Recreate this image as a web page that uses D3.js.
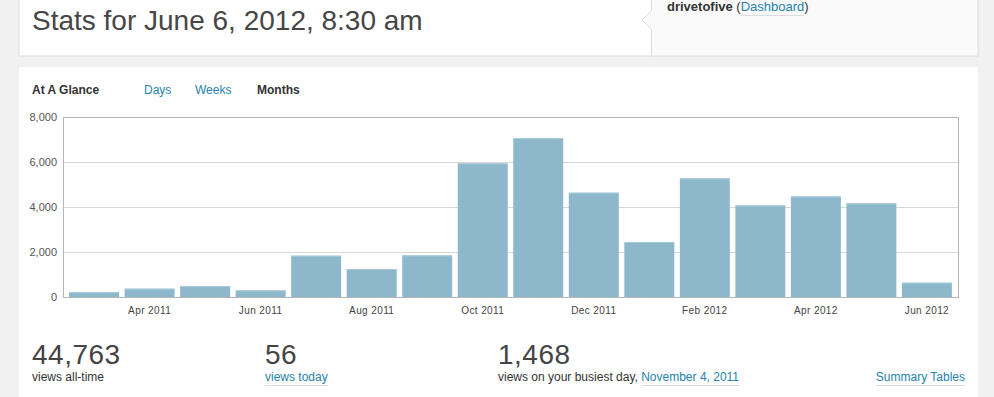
<!DOCTYPE html>
<html>
<head>
<meta charset="utf-8">
<script src="https://cdn.jsdelivr.net/npm/d3@7"></script>
<style>
  body { margin: 0; background: #f1f1f1; }
  svg { display: block; font-family: "Liberation Sans", Arial, sans-serif; }
</style>
</head>
<body>
<script>
// monthly views, Mar 2011 - Jun 2012
const months = ['Mar 2011','Apr 2011','May 2011','Jun 2011','Jul 2011','Aug 2011','Sep 2011','Oct 2011',
                'Nov 2011','Dec 2011','Jan 2012','Feb 2012','Mar 2012','Apr 2012','May 2012','Jun 2012'];
const views = [220, 370, 490, 295, 1835, 1245, 1850, 5940, 7065, 4635, 2445, 5270, 4070, 4470, 4160, 635];
const yTicks = [0, 2000, 4000, 6000, 8000];
const xTickLabels = ['Apr 2011','Jun 2011','Aug 2011','Oct 2011','Dec 2011','Feb 2012','Apr 2012','Jun 2012'];

const width = 994, height = 397;
const plot = {left: 63, top: 117, right: 958, bottom: 297};
const linkColor = '#2583ad';

const svg = d3.select('body').append('svg').attr('width', width).attr('height', height);

//page boxes
svg.append('rect').attr('x', 0).attr('y', 0).attr('width', width).attr('height', height).attr('fill', '#f1f1f1');
svg.append('rect').attr('x', 19).attr('y', -1).attr('width', 959).attr('height', 57)
   .attr('fill', '#fff').attr('stroke', '#dfdfdf');
svg.append('rect').attr('x', 651.5).attr('y', -1).attr('width', 326.5).attr('height', 57)
   .attr('fill', '#fafafa').attr('stroke', '#dfdfdf');
svg.append('path').attr('d', 'M652,10 L642,20 L652,30').attr('fill', '#fafafa').attr('stroke', '#dfdfdf');
svg.append('rect').attr('x', 652).attr('y', 11).attr('width', 2).attr('height', 18).attr('fill', '#fafafa');
svg.append('rect').attr('x', 19).attr('y', 67).attr('width', 959).attr('height', 340)
   .attr('fill', '#fff');

//underline helper for links
function underline(node) {
  const b = node.getBBox();
  svg.append('line').attr('x1', b.x).attr('x2', b.x + b.width)
     .attr('y1', b.y + b.height + 1.5).attr('y2', b.y + b.height + 1.5).attr('stroke', '#dcdcdc');
}

//header texts
svg.append('text').attr('x', 32).attr('y', 30).text('Stats for June 6, 2012, 8:30 am')
   .attr('font-size', 28).attr('fill', '#464646');
const who = svg.append('text').attr('x', 667).attr('y', 11).attr('font-size', 13);
who.append('tspan').text('drivetofive ').attr('font-weight', 'bold').attr('fill', '#333');
who.append('tspan').text('(').attr('fill', '#333');
const dash = who.append('tspan').text('Dashboard').attr('fill', linkColor);
who.append('tspan').text(')').attr('fill', '#333');
underline(dash.node());

//tabs
svg.append('text').attr('x', 32).attr('y', 94).text('At A Glance').attr('font-size', 12)
   .attr('font-weight', 'bold').attr('fill', '#333');
svg.append('text').attr('x', 144).attr('y', 94).text('Days').attr('font-size', 12).attr('fill', linkColor);
svg.append('text').attr('x', 195).attr('y', 94).text('Weeks').attr('font-size', 12).attr('fill', linkColor);
svg.append('text').attr('x', 257).attr('y', 94).text('Months').attr('font-size', 12)
   .attr('font-weight', 'bold').attr('fill', '#333');

//scales
const xScale = d3.scaleBand().domain(months).range([plot.left, plot.right]).paddingInner(0.1).paddingOuter(0.11);
const yScale = d3.scaleLinear().domain([0, 8000]).range([plot.bottom, plot.top]);

//grid
svg.append('g').selectAll('line').data(yTicks.slice(1, -1)).join('line')
   .attr('x1', plot.left).attr('x2', plot.right)
   .attr('y1', d => Math.round(yScale(d)) + 0.5).attr('y2', d => Math.round(yScale(d)) + 0.5)
   .attr('stroke', '#d8d8d8');

//bars
svg.append('g').selectAll('rect').data(views).join('rect')
   .attr('x', (d, i) => xScale(months[i]))
   .attr('y', d => yScale(d))
   .attr('width', xScale.bandwidth())
   .attr('height', d => plot.bottom - yScale(d))
   .attr('fill', '#8db8cb');
svg.append('g').selectAll('line').data(views).join('line')
   .attr('x1', (d, i) => xScale(months[i])).attr('x2', (d, i) => xScale(months[i]) + xScale.bandwidth())
   .attr('y1', d => yScale(d) + 0.5).attr('y2', d => yScale(d) + 0.5)
   .attr('stroke', '#a9cbda');

//plot frame
svg.append('rect').attr('x', plot.left + 0.5).attr('y', plot.top + 0.5)
   .attr('width', plot.right - plot.left).attr('height', plot.bottom - plot.top)
   .attr('fill', 'none').attr('stroke', '#b5b5b5');

//y axis
const yAxis = svg.append('g').attr('transform', `translate(${plot.left - 6},0)`)
   .call(d3.axisLeft(yScale).tickValues(yTicks).tickSize(0).tickPadding(0).tickFormat(d3.format(',')));
yAxis.select('.domain').remove();
yAxis.selectAll('text').attr('font-size', 11).attr('fill', '#555').attr('font-family', null);

//x axis
const xAxis = svg.append('g').attr('transform', `translate(0,${plot.bottom + 10})`)
   .call(d3.axisBottom(xScale).tickValues(xTickLabels).tickSize(0).tickPadding(0));
xAxis.select('.domain').remove();
xAxis.selectAll('text').attr('font-size', 10).attr('fill', '#444').attr('font-family', null)
   .attr('letter-spacing', 0.4);

//summary numbers
const stats = [
  {x: 32, num: '44,763', label: 'views all-time'},
  {x: 265, num: '56', label: 'views today', link: true},
  {x: 498, num: '1,468', label: 'views on your busiest day, ', extra: 'November 4, 2011'}
];
stats.forEach(s => {
  svg.append('text').attr('x', s.x).attr('y', 364).text(s.num).attr('font-size', 28)
     .attr('fill', '#444').attr('letter-spacing', 0.5);
  const t = svg.append('text').attr('x', s.x).attr('y', 381).attr('font-size', 12);
  const lab = t.append('tspan').text(s.label).attr('fill', s.link ? linkColor : '#333');
  if (s.link) underline(lab.node());
  if (s.extra) underline(t.append('tspan').text(s.extra).attr('fill', linkColor).node());
});
const sumT = svg.append('text').attr('x', 965).attr('y', 381).attr('text-anchor', 'end').text('Summary Tables')
   .attr('font-size', 12).attr('fill', linkColor);
underline(sumT.node());
</script>
</body>
</html>
